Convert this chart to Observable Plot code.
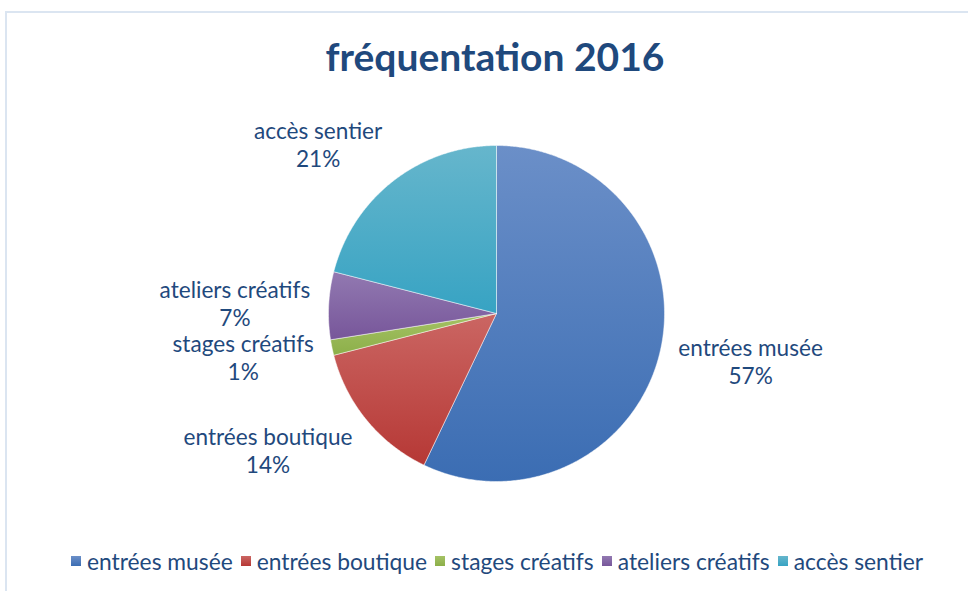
<!DOCTYPE html>
<html>
<head>
<meta charset="utf-8">
<script src="https://cdn.jsdelivr.net/npm/d3@7"></script>
<script src="https://cdn.jsdelivr.net/npm/@observablehq/plot@0.6"></script>
<style>
  html, body { margin: 0; padding: 0; background: #fff; }
  #wrap { position: relative; width: 968px; height: 591px; overflow: hidden; font-family: Lato, "Open Sans", sans-serif; }
  #frame { position: absolute; left: 5px; top: 11px; width: 1000px; height: 700px; border: 2px solid #dbe5f1; box-sizing: border-box; }
  #title { position: absolute; left: 0; width: 990px; top: 33px; text-align: center; font: bold 39px Lato, sans-serif; color: #1f497d; }
  #chart { position: absolute; left: 0; top: 0; }
  #legend { position: absolute; left: 0; width: 994px; top: 547px; display: flex; justify-content: center; gap: 8px; font: 22.8px Lato, sans-serif; color: #1f497d; }
  #legend .item { display: flex; align-items: center; gap: 6px; }
  #legend .sw { width: 10px; height: 10px; display: inline-block; }
</style>
</head>
<body>
<div id="wrap">
  <div id="frame"></div>
  <div id="chart"></div>
  <div id="title">fréquentation 2016</div>
  <div id="legend"></div>
</div>
<script>
// ---- data ----
const categories = ["entrées musée", "entrées boutique", "stages créatifs", "ateliers créatifs", "accès sentier"];
const values = [57.1, 13.9, 1.5, 6.5, 21.0];
const percentLabels = ["57%", "14%", "1%", "7%", "21%"];
// ---- styles ----
const colorsTop = ["#6b8fc8", "#cb6663", "#a5c265", "#9279b1", "#66b6cc"];
const colorsBottom = ["#3b6db3", "#b63835", "#8caf49", "#77569a", "#37a3c3"];

const W = 968, H = 591;
const CX = 496, CY = 313, R = 168;
const FS = 22.6;

const rows = categories.map((c, i) => ({name: c, value: values[i], label: percentLabels[i], i}));
const arcs = d3.pie().sort(null).value(d => d.value)(rows);

// polygon points for each slice, in unit coordinates (y up)
const pts = [];
arcs.forEach(a => {
  const n = Math.max(2, Math.ceil((a.endAngle - a.startAngle) / (Math.PI / 360)));
  pts.push({name: a.data.name, i: a.data.i, x: 0, y: 0});
  for (let k = 0; k <= n; k++) {
    const t = a.startAngle + (a.endAngle - a.startAngle) * k / n;
    pts.push({name: a.data.name, i: a.data.i, x: Math.sin(t), y: Math.cos(t)});
  }
  pts.push({name: a.data.name, i: a.data.i, x: 0, y: 0});
});

// label positions (outside end, Excel-like)
const ctx = document.createElement("canvas").getContext("2d");
ctx.font = FS + "px Lato";
const lineH = 28;
const labelRows = arcs.map(a => {
  const m = (a.startAngle + a.endAngle) / 2;
  const s = Math.sin(m), c = Math.cos(m);
  const k = 1.11;
  const w = Math.max(ctx.measureText(a.data.name).width, ctx.measureText(a.data.label).width);
  const h = lineH * 2;
  const ax = s * k, ay = c * k;
  return {
    text: a.data.name + "\n" + a.data.label,
    x: ax + Math.sign(s) * (w / 2) / R,
    y: ay + c * (h / 2) / R
  };
});

const defs = () => {
  const g = d3.create("svg:defs");
  categories.forEach((c, i) => {
    const lg = g.append("linearGradient").attr("id", "grad" + i)
      .attr("x1", 0).attr("y1", 0).attr("x2", 0).attr("y2", 1);
    lg.append("stop").attr("offset", "0%").attr("stop-color", colorsTop[i]);
    lg.append("stop").attr("offset", "100%").attr("stop-color", colorsBottom[i]);
  });
  return g.node();
};

const marks = [defs];
arcs.forEach(a => {
  const i = a.data.i;
  marks.push(Plot.line(pts.filter(p => p.i === i), {
    x: "x", y: "y", fill: `url(#grad${i})`, stroke: "#ffffff", strokeOpacity: 0.6, strokeWidth: 0.8, curve: "linear"
  }));
});
marks.push(Plot.text(labelRows, {
  x: "x", y: "y", text: "text", textAnchor: "middle", lineAnchor: "middle", lineHeight: lineH / FS,
  fontSize: FS, fontFamily: "Lato, sans-serif", fill: "#1f497d"
}));

const chart = Plot.plot({
  width: W, height: H,
  margin: 0,
  x: {domain: [-CX / R, (W - CX) / R], range: [0, W], axis: null},
  y: {domain: [-(H - CY) / R, CY / R], range: [H, 0], axis: null},
  style: {background: "transparent", overflow: "visible"},
  marks
});
document.getElementById("chart").appendChild(chart);

const legend = document.getElementById("legend");
categories.forEach((c, i) => {
  const it = document.createElement("div");
  it.className = "item";
  const sw = document.createElement("span");
  sw.className = "sw";
  sw.style.background = `linear-gradient(${colorsTop[i]}, ${colorsBottom[i]})`;
  const tx = document.createElement("span");
  tx.textContent = c;
  it.appendChild(sw); it.appendChild(tx);
  legend.appendChild(it);
});
</script>
</body>
</html>
